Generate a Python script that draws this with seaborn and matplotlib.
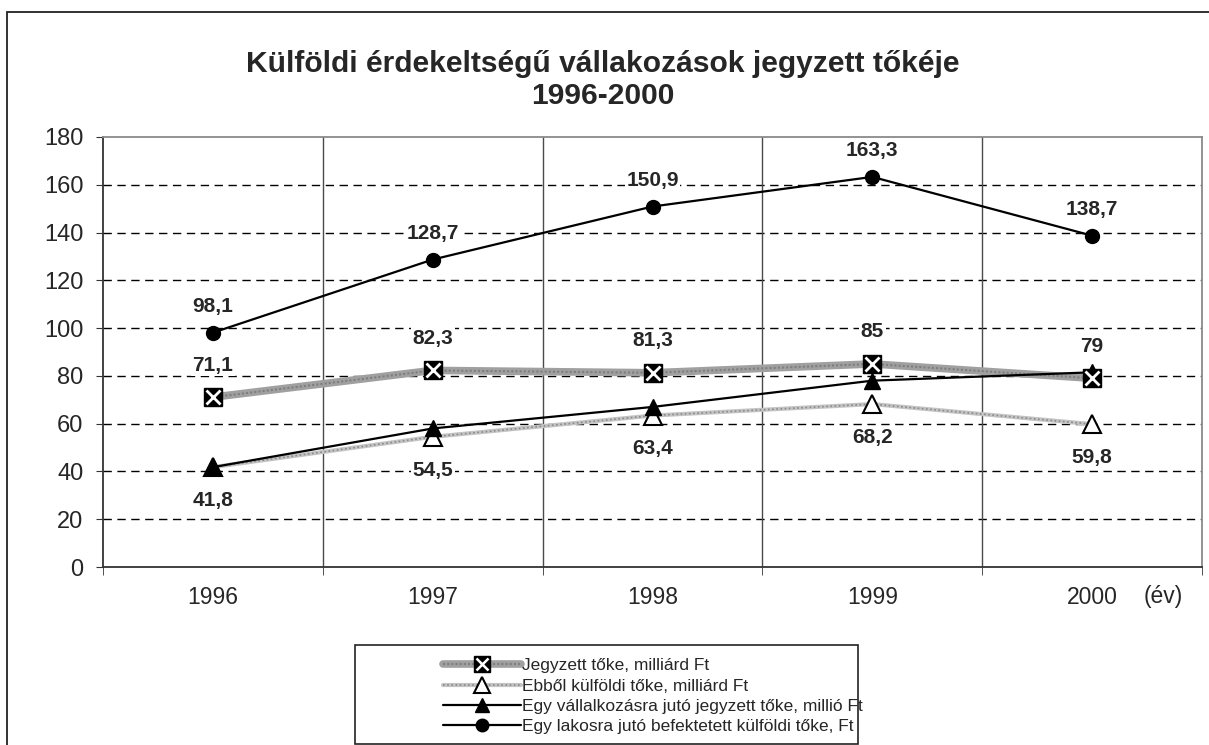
import matplotlib.pyplot as plt
import matplotlib.patches as mpatches
from matplotlib.legend_handler import HandlerTuple
import numpy as np
import pandas as pd
import seaborn as sns

# data
years = ['1996', '1997', '1998', '1999', '2000']
jegyzett = [71.1, 82.3, 81.3, 85, 79]          # Jegyzett tőke, milliárd Ft
kulfoldi = [41.8, 54.5, 63.4, 68.2, 59.8]      # Ebből külföldi tőke, milliárd Ft
vallalkozas = [41.8, 58.0, 67.0, 78.0, 81.5]   # Egy vállalkozásra jutó jegyzett tőke (no labels)
lakos = [98.1, 128.7, 150.9, 163.3, 138.7]     # Egy lakosra jutó befektetett külföldi tőke

names = ['Jegyzett tőke, milliárd Ft',
         'Ebből külföldi tőke, milliárd Ft',
         'Egy vállalkozásra jutó jegyzett tőke, millió Ft',
         'Egy lakosra jutó befektetett külföldi tőke, Ft']

df = pd.DataFrame({'x': range(len(years)), 'jegyzett': jegyzett, 'kulfoldi': kulfoldi,
                   'vallalkozas': vallalkozas, 'lakos': lakos})

sns.set_style('white')
plt.rcParams['font.family'] = ['Liberation Sans', 'DejaVu Sans']

fig = plt.figure(figsize=(12.09, 7.45), dpi=100)
ax = fig.add_axes([103 / 1209, 1 - 567 / 745, 1099 / 1209, 430 / 745])

# grid
ax.set_ylim(0, 180)
ax.set_xlim(-0.5, len(years) - 0.5)
ax.set_yticks(np.arange(0, 181, 20))
for y in np.arange(20, 180, 20):
    ax.axhline(y, color='black', lw=1, ls=(0, (6, 4)), zorder=0)
for b in np.arange(0.5, len(years) - 0.5, 1):
    ax.axvline(b, color='#4a4a4a', lw=1, zorder=0)

# series
sns.lineplot(data=df, x='x', y='jegyzett', ax=ax, color='#a0a0a0', lw=5.5, zorder=3)
sns.lineplot(data=df, x='x', y='jegyzett', ax=ax, color='#7e7e7e', lw=1.5, ls=(0, (1, 1)), zorder=3)
sns.lineplot(data=df, x='x', y='kulfoldi', ax=ax, color='#c4c4c4', lw=3, zorder=2)
sns.lineplot(data=df, x='x', y='kulfoldi', ax=ax, color='#8a8a8a', lw=1.2, ls=(0, (1, 1.5)), zorder=2)
sns.lineplot(data=df, x='x', y='vallalkozas', ax=ax, color='black', lw=1.6, zorder=4)
sns.lineplot(data=df, x='x', y='lakos', ax=ax, color='black', lw=1.6, zorder=4)

ax.plot(df['x'], df['jegyzett'], ls='none', marker='s', ms=13, mfc='black', mec='black', zorder=6)
ax.plot(df['x'], df['jegyzett'], ls='none', marker='x', ms=10, mec='white', mew=2, zorder=7)
ax.plot(df['x'], df['kulfoldi'], ls='none', marker='^', ms=13, mfc='white', mec='black', mew=1.5, zorder=5)
ax.plot(df['x'], df['vallalkozas'], ls='none', marker='^', ms=12, mfc='black', mec='black', zorder=6)
ax.plot(df['x'], df['lakos'], ls='none', marker='o', ms=10, mfc='black', mec='black', zorder=6)

def fmt(v):
    return f'{v:g}'.replace('.', ',')

lab = dict(ha='center', va='center', fontsize=15, fontweight='bold', textcoords='offset points',
           bbox=dict(boxstyle='square,pad=0.08', fc='white', ec='none'), zorder=8,
           annotation_clip=False)
for i, v in enumerate(lakos):
    ax.annotate(fmt(v), (i, v), xytext=(0, 19), **lab)
for i, v in enumerate(jegyzett):
    ax.annotate(fmt(v), (i, v), xytext=(0, 23), **lab)
for i, v in enumerate(kulfoldi):
    ax.annotate(fmt(v), (i, v), xytext=(0, -24), **lab)

# axes styling
ax.set_xticks(range(len(years)))
ax.set_xticklabels(years)
ax.set_xticks(np.arange(-0.5, len(years), 1), minor=True)
ax.tick_params(axis='x', which='major', length=0, pad=14, labelsize=16.5)
ax.tick_params(axis='x', which='minor', length=6, direction='out', color='#333333', bottom=True)
ax.tick_params(axis='y', length=5, direction='out', color='#333333', labelsize=17, pad=9, left=True)
ax.set_xlabel('')
ax.set_ylabel('')
for s in ['left', 'bottom']:
    ax.spines[s].set_color('#333333')
    ax.spines[s].set_linewidth(1.3)
for s in ['top', 'right']:
    ax.spines[s].set_color('#8a8a8a')
    ax.spines[s].set_linewidth(1.3)

ax.text(1 - 19 / 1099, -0.069, '(év)', transform=ax.transAxes, ha='right', va='center', fontsize=16.5)

fig.text(603 / 1209, 1 - 80 / 745,
         'Külföldi érdekeltségű vállakozások jegyzett tőkéje\n1996-2000',
         ha='center', va='center', fontsize=21.6, fontweight='bold', linespacing=1.22)

# outer frame of the chart
fig.patches.append(mpatches.Rectangle((7 / 1209, -0.05), 1.1, 1 - 12 / 745 + 0.05,
                                      transform=fig.transFigure, fill=False,
                                      edgecolor='#222222', lw=1.3))

# legend
h1 = (plt.Line2D([], [], color='#a0a0a0', lw=5.5),
      plt.Line2D([], [], color='#7e7e7e', lw=1.5, ls=(0, (1, 1))),
      plt.Line2D([], [], ls='none', marker='s', ms=11, mfc='black', mec='black'),
      plt.Line2D([], [], ls='none', marker='x', ms=8, mec='white', mew=1.8))
h2 = (plt.Line2D([], [], color='#c4c4c4', lw=3),
      plt.Line2D([], [], color='#8a8a8a', lw=1.2, ls=(0, (1, 1.5))),
      plt.Line2D([], [], ls='none', marker='^', ms=11, mfc='white', mec='black', mew=1.5))
h3 = plt.Line2D([], [], color='black', lw=1.6, marker='^', ms=10, mfc='black', mec='black')
h4 = plt.Line2D([], [], color='black', lw=1.6, marker='o', ms=9, mfc='black', mec='black')
fig.legend([h1, h2, h3, h4], names, loc='upper left',
           bbox_to_anchor=(431 / 1209, 1 - 646 / 745), frameon=False,
           fontsize=12.5, handlelength=4.5, handletextpad=0.05, labelspacing=0.3,
           borderpad=0.2, handler_map={tuple: HandlerTuple(ndivide=1)})
fig.patches.append(mpatches.Rectangle((355 / 1209, 1 - 744 / 745), 503 / 1209, 99 / 745,
                                      transform=fig.transFigure, fill=False,
                                      edgecolor='#222222', lw=1.2))

fig.savefig('out.png', dpi=100, facecolor='white')
